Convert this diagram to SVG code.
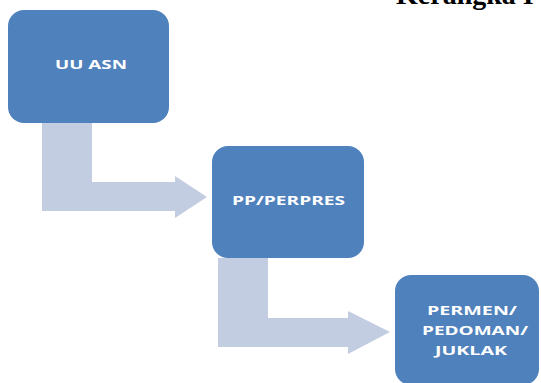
<svg xmlns="http://www.w3.org/2000/svg" width="541" height="383" viewBox="0 0 541 383">
<style>
.box{fill:#4F81BD}
.arr{fill:#C3CDE2}
.lbl{font-family:"Open Sans","DejaVu Sans",sans-serif;font-weight:bold;font-size:12px;fill:#FFFFFF}
.title{font-family:"Liberation Serif",serif;font-weight:bold;font-size:28px;fill:#000000}
</style>
<rect width="541" height="383" fill="#FFFFFF"/>
<text class="title" x="396" y="4">Kerangka I</text>
<g id="connectors">
<path class="arr" d="M42,123 H92 V182 H175 V176 L207,197 L175,218 V211 H42 Z"/>
<path class="arr" d="M218,258 H268 V318 H348 V311 L390,332 L348,354 V347 H218 Z"/>
</g>
<g id="uu-asn">
<rect class="box" x="8" y="10" width="161" height="113" rx="16"/>
<text class="lbl" x="55" y="69" textLength="72" lengthAdjust="spacingAndGlyphs">UU ASN</text>
</g>
<g id="pp-perpres">
<rect class="box" x="212" y="146" width="152" height="112" rx="16"/>
<text class="lbl" x="232" y="205" textLength="113" lengthAdjust="spacingAndGlyphs">PP/PERPRES</text>
</g>
<g id="permen">
<rect class="box" x="395" y="275" width="144" height="110" rx="16"/>
<text class="lbl" x="427" y="315" textLength="90" lengthAdjust="spacingAndGlyphs">PERMEN/</text>
<text class="lbl" x="422" y="335" textLength="106" lengthAdjust="spacingAndGlyphs">PEDOMAN/</text>
<text class="lbl" x="435" y="355" textLength="72" lengthAdjust="spacingAndGlyphs">JUKLAK</text>
</g>
</svg>
